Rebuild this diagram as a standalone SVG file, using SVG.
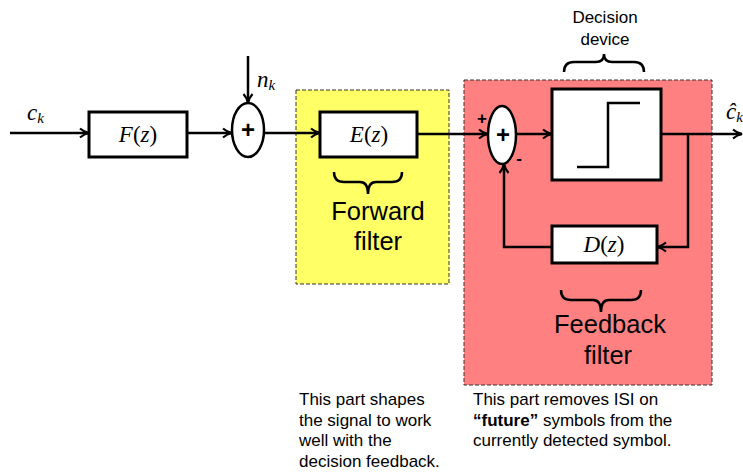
<svg xmlns="http://www.w3.org/2000/svg" width="743" height="472" viewBox="0 0 743 472">
<defs>
<style>
.ln{fill:none;stroke:#000;stroke-width:2.5}
.box{fill:#fff;stroke:#000;stroke-width:3}
.sum{fill:#fff;stroke:#000;stroke-width:2.5}
.math{font-family:"Liberation Serif","DejaVu Serif",serif;font-style:italic;font-size:23px}
.par{font-style:normal}
.lbl{font-family:"Liberation Sans",Arial,sans-serif;fill:#000}
.big{font-size:25.5px;text-anchor:middle}
.note{font-size:17px}
.plus{font-family:"Liberation Sans",Arial,sans-serif;font-weight:bold;font-size:24px;text-anchor:middle}
.sgn{font-family:"Liberation Sans",Arial,sans-serif;font-weight:bold;font-size:17px;text-anchor:middle}
.brace{fill:none;stroke:#000;stroke-width:2.5}
</style>
<marker id="arr" viewBox="0 0 12 12" refX="11" refY="6" markerWidth="12" markerHeight="12" markerUnits="userSpaceOnUse" orient="auto">
<path d="M2,1.5 Q6,5 11,6 Q6,7 2,10.5" fill="none" stroke="#000" stroke-width="2.2"/>
</marker>
</defs>
<rect width="743" height="472" fill="#fff"/>

<g id="forward-region">
<rect x="296" y="90" width="153" height="194" fill="#ffff66" stroke="#333" stroke-width="1" stroke-dasharray="4 2"/>
</g>
<g id="feedback-region">
<rect x="464" y="80" width="248" height="305" fill="#ff8080" stroke="#333" stroke-width="1" stroke-dasharray="4 2"/>
</g>

<g id="connectors">
<path class="ln" d="M10,133 H89" marker-end="url(#arr)"/>
<path class="ln" d="M187,133 H232" marker-end="url(#arr)"/>
<path class="ln" d="M248,56 V103" marker-end="url(#arr)"/>
<path class="ln" d="M264,133 H320" marker-end="url(#arr)"/>
<path class="ln" d="M417,134 H488" marker-end="url(#arr)"/>
<path class="ln" d="M516,134 H552" marker-end="url(#arr)"/>
<path class="ln" d="M656,134 H742" marker-end="url(#arr)"/>
<path class="ln" d="M688,134 V247 H657" marker-end="url(#arr)"/>
<path class="ln" d="M552,247 H504 V164" marker-end="url(#arr)"/>
</g>

<g id="input-label">
<text class="math" x="27" y="120">c<tspan font-size="15" dy="3">k</tspan></text>
</g>
<g id="noise-label">
<text class="math" x="257" y="87">n<tspan font-size="15" dy="3">k</tspan></text>
</g>
<g id="output-label">
<text class="math" x="726" y="119">ĉ<tspan font-size="15" dy="3">k</tspan></text>
</g>

<g id="F">
<rect class="box" x="89" y="112" width="98" height="45"/>
<text class="math" x="138" y="142" text-anchor="middle">F<tspan class="par">(</tspan>z<tspan class="par">)</tspan></text>
</g>

<g id="sum1">
<ellipse class="sum" cx="248" cy="130" rx="16" ry="27"/>
<text class="plus" x="248" y="138">+</text>
</g>

<g id="E">
<rect class="box" x="320" y="112" width="97" height="45"/>
<text class="math" x="369" y="142" text-anchor="middle">E<tspan class="par">(</tspan>z<tspan class="par">)</tspan></text>
</g>
<g id="forward-label">
<path class="brace" d="M334,172 Q334,182 344,182 H360 Q368,182 368,194 Q368,182 376,182 H392 Q402,182 402,172"/>
<text class="lbl big" x="378" y="220">Forward</text>
<text class="lbl big" x="378" y="250">filter</text>
</g>

<g id="sum2">
<ellipse class="sum" cx="502" cy="135" rx="14" ry="29"/>
<text class="plus" x="503" y="143">+</text>
<text class="sgn" x="482" y="124">+</text>
<text class="sgn" x="519" y="164">-</text>
</g>

<g id="decision">
<rect class="box" x="552" y="89" width="109" height="91"/>
<path class="ln" d="M577,167 H608 V103 H640"/>
</g>
<g id="decision-label">
<text class="lbl" x="605" y="23" font-size="17" text-anchor="middle">Decision</text>
<text class="lbl" x="605" y="45" font-size="17" text-anchor="middle">device</text>
<path class="brace" d="M564,72 Q564,62 574,62 H596 Q604,62 604,54 Q604,62 612,62 H634 Q644,62 644,72"/>
</g>

<g id="D">
<rect class="box" x="552" y="226" width="105" height="37"/>
<text class="math" x="604" y="252" text-anchor="middle">D<tspan class="par">(</tspan>z<tspan class="par">)</tspan></text>
</g>
<g id="feedback-label">
<path class="brace" d="M561,290 Q561,300 571,300 H593 Q601,300 601,312 Q601,300 609,300 H631 Q641,300 641,290"/>
<text class="lbl big" x="610" y="333">Feedback</text>
<text class="lbl big" x="608" y="364">filter</text>
</g>

<g id="note-left">
<text class="lbl note" x="299" y="405">This part shapes</text>
<text class="lbl note" x="299" y="426">the signal to work</text>
<text class="lbl note" x="299" y="446">well with the</text>
<text class="lbl note" x="299" y="467">decision feedback.</text>
</g>
<g id="note-right">
<text class="lbl note" x="473" y="405">This part removes ISI on</text>
<text class="lbl note" x="473" y="426"><tspan font-weight="bold">“future”</tspan> symbols from the</text>
<text class="lbl note" x="473" y="446">currently detected symbol.</text>
</g>
</svg>
